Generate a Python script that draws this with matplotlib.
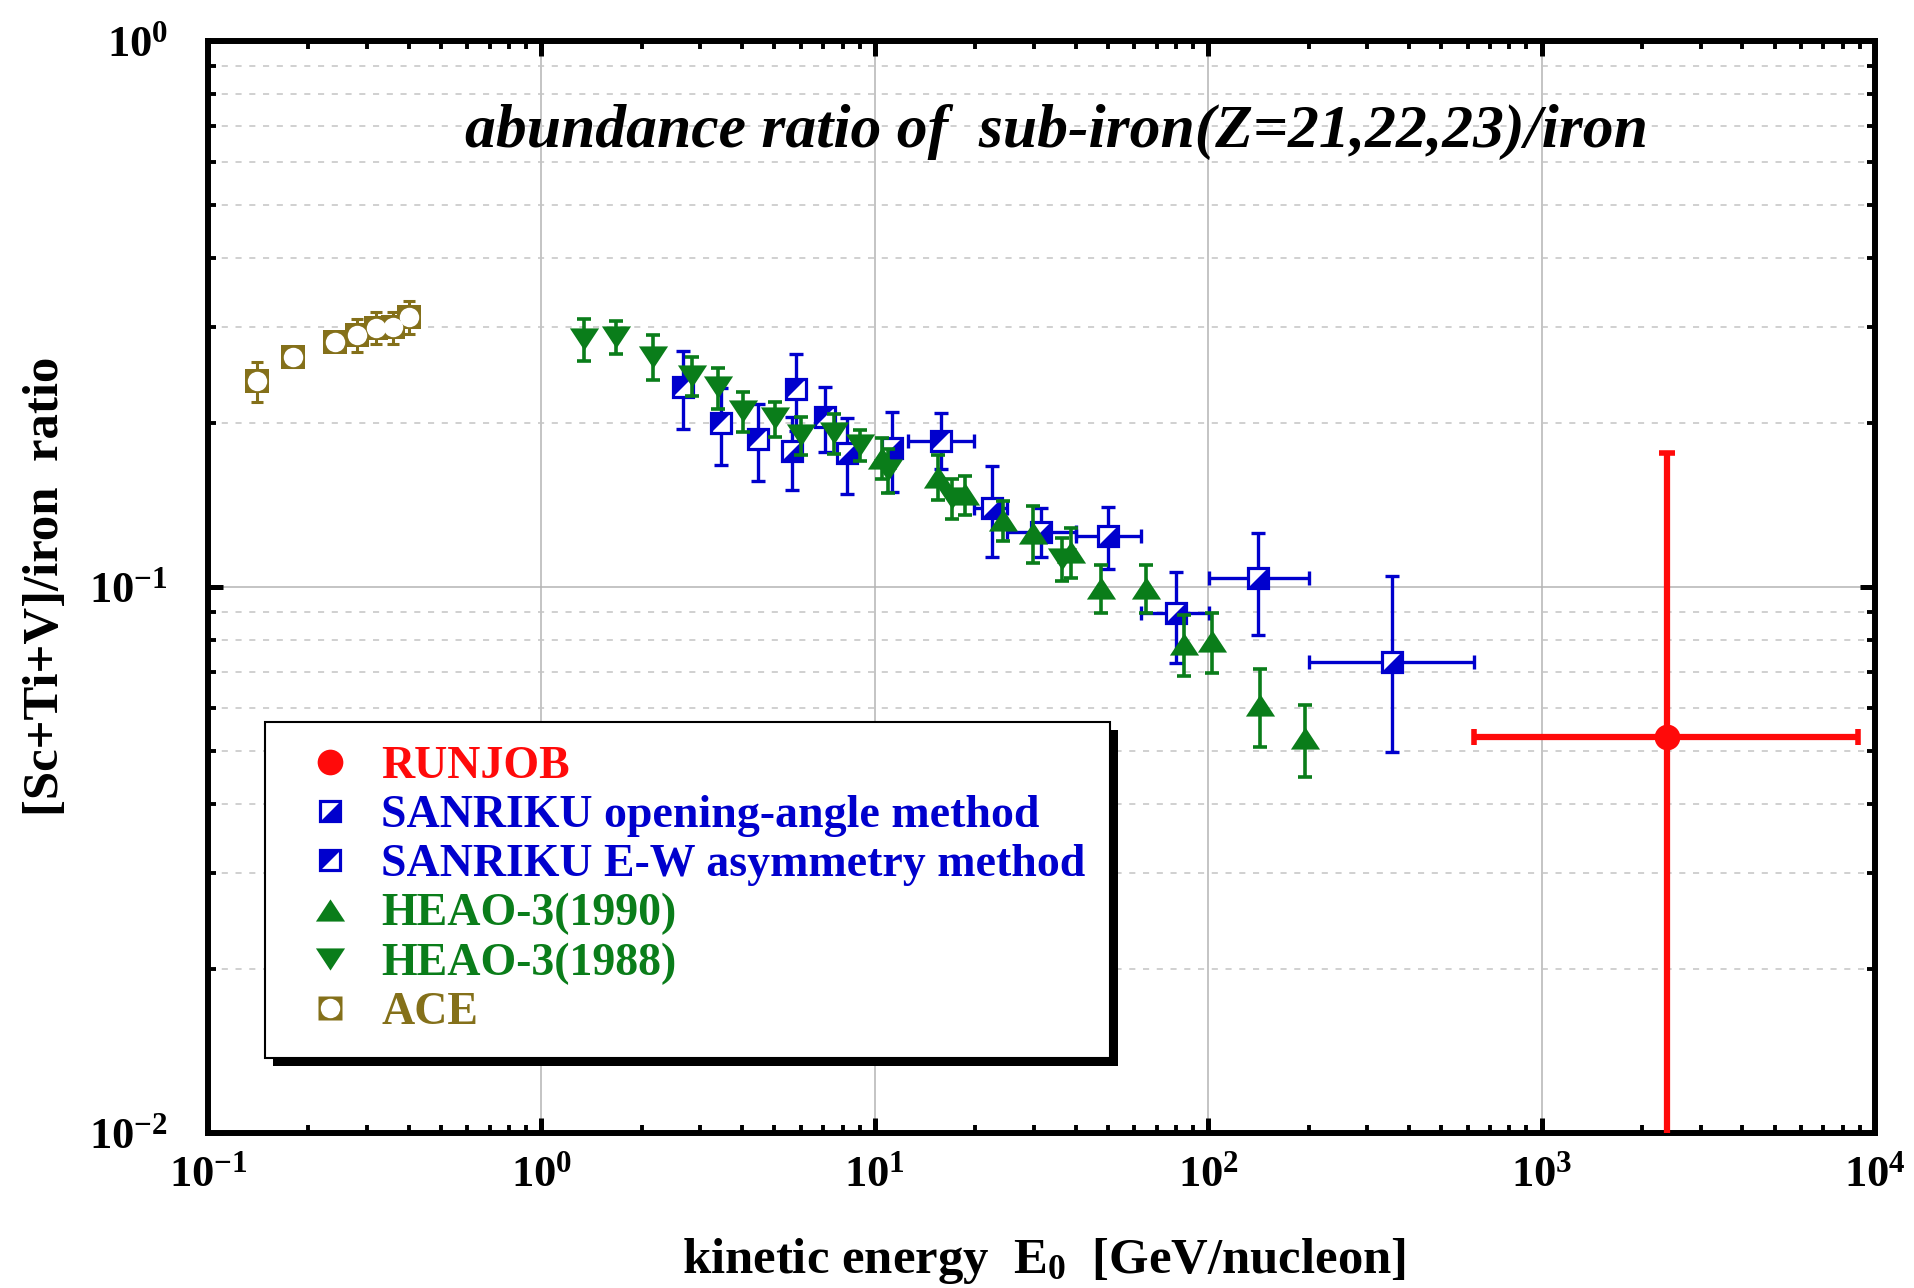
import numpy as np
import matplotlib
matplotlib.use("Agg")
import matplotlib.pyplot as plt
from matplotlib.lines import Line2D
from matplotlib.patches import Rectangle
from matplotlib.transforms import IdentityTransform
from matplotlib.legend_handler import HandlerTuple
from matplotlib.ticker import FixedLocator, LogLocator, FuncFormatter, NullFormatter

plt.rcParams["font.family"] = ["Liberation Serif", "DejaVu Serif"]
plt.rcParams["font.weight"] = "bold"
plt.rcParams["mathtext.fontset"] = "custom"
plt.rcParams["mathtext.rm"] = "Liberation Serif:bold"
plt.rcParams["mathtext.bf"] = "Liberation Serif:bold"
plt.rcParams["mathtext.it"] = "Liberation Serif:bold:italic"

# ---- data ----
# RUNJOB
runjob_x = [2370.0]
runjob_y = [0.0532]
runjob_xlo = [628.0]
runjob_xhi = [8900.0]
runjob_ylo = [0.001]
runjob_yhi = [0.176]

# SANRIKU opening-angle method
oa_x = [5.64, 8.25, 11.25, 22.4, 31.6, 50.1, 79.8, 140.6, 354.8]
oa_y = [0.1777, 0.1762, 0.1795, 0.1393, 0.1263, 0.124, 0.0897, 0.1037, 0.0728]
oa_yerr_lo = [0.027, 0.028, 0.030, 0.026, 0.013, 0.016, 0.017, 0.022, 0.023]
oa_yerr_hi = [0.027, 0.028, 0.030, 0.027, 0.013, 0.016, 0.017, 0.022, 0.032]
oa_xlo = [5.64, 8.25, 11.25, 19.9, 24.9, 40.2, 63.0, 100.4, 200.4]
oa_xhi = [5.64, 8.25, 11.25, 24.9, 40.2, 63.0, 100.4, 200.4, 625.6]

# SANRIKU E-W asymmetry method
ew_x = [2.667, 3.453, 4.478, 5.80, 7.10, 15.8]
ew_y = [0.2321, 0.1994, 0.1864, 0.2302, 0.2045, 0.1848]
ew_yerr_lo = [0.037, 0.032, 0.030, 0.037, 0.028, 0.020]
ew_yerr_hi = [0.038, 0.032, 0.030, 0.037, 0.028, 0.024]
ew_xlo = [2.667, 3.453, 4.478, 5.80, 7.10, 12.57]
ew_xhi = [2.667, 3.453, 4.478, 5.80, 7.10, 19.9]

# HEAO-3 (1990)
h90_x = [10.5, 15.5, 18.7, 24.2, 29.9, 38.8, 47.7, 65.1, 84.9, 102.4, 142.7, 194.5]
h90_y = [0.1725, 0.1592, 0.1478, 0.1327, 0.1257, 0.1161, 0.0997, 0.0997,
         0.0788, 0.0796, 0.0609, 0.0529]
h90_err = [0.015, 0.015, 0.012, 0.011, 0.015, 0.012, 0.010, 0.010, 0.010, 0.010, 0.010, 0.008]

# HEAO-3 (1988)
h88_x = [1.346, 1.675, 2.168, 2.826, 3.397, 4.036, 5.003, 6.0, 7.52, 9.0, 10.99, 17.0, 36.5]
h88_y = [0.2845, 0.287, 0.2641, 0.2434, 0.2321, 0.2101, 0.2037, 0.1898, 0.1912,
         0.182, 0.1637, 0.1455, 0.1128]
h88_err = [0.025, 0.020, 0.025, 0.020, 0.020, 0.018, 0.015, 0.015, 0.016, 0.012, 0.015, 0.012, 0.010]

# ACE
ace_x = [0.140, 0.1803, 0.2404, 0.2793, 0.3192, 0.3597, 0.4018]
ace_y = [0.2384, 0.2634, 0.2813, 0.2893, 0.2985, 0.2990, 0.3127]
ace_err = [0.020, 0.010, 0.010, 0.020, 0.020, 0.020, 0.022]

RED = "#ff0a0a"
BLUE = "#0000cd"
GREEN = "#0a7d1a"
OLIVE = "#84701a"

TRI_UP = [(0, 0.76), (-1, -0.76), (1, -0.76)]
TRI_DN = [(0, -0.76), (-1, 0.76), (1, 0.76)]
HALF_LR = [(-1, -1), (1, -1), (1, 1)]   # blue lower-right (opening-angle)
HALF_UL = [(-1, -1), (-1, 1), (1, 1)]   # blue upper-left (E-W)

fig = plt.figure(figsize=(19.14, 12.88), dpi=100)
ax = fig.add_axes([0.1087, 0.1203, 0.8709, 0.8478])
ax.set_xscale("log")
ax.set_yscale("log")
ax.set_xlim(0.1, 1e4)
ax.set_ylim(0.01, 1)

# ACE
ax.errorbar(ace_x, ace_y, yerr=ace_err, fmt="none", ecolor=OLIVE,
            elinewidth=2.2, capsize=4.5, capthick=2.2, zorder=3)
ax.plot(ace_x, ace_y, ls="none", marker="s", ms=17, mfc=OLIVE, mec=OLIVE, mew=0, zorder=4)
ax.plot(ace_x, ace_y, ls="none", marker="o", ms=14, mfc="white", mec="none", zorder=4.1)

# SANRIKU
def sanriku(x, y, ylo, yhi, xlo, xhi, half):
    x = np.array(x)
    xerr = [x - np.array(xlo), np.array(xhi) - x]
    ax.errorbar(x, y, yerr=[ylo, yhi], xerr=xerr, fmt="none", ecolor=BLUE,
                elinewidth=2.4, capsize=4.8, capthick=2.4, zorder=3)
    ax.plot(x, y, ls="none", marker="s", ms=14.5, mfc="white", mec=BLUE, mew=2.3, zorder=4)
    ax.plot(x, y, ls="none", marker=half, ms=14.5, mfc=BLUE, mec="none", mew=0, zorder=4.1)

sanriku(ew_x, ew_y, ew_yerr_lo, ew_yerr_hi, ew_xlo, ew_xhi, HALF_UL)
sanriku(oa_x, oa_y, oa_yerr_lo, oa_yerr_hi, oa_xlo, oa_xhi, HALF_LR)

# HEAO-3
ax.errorbar(h90_x, h90_y, yerr=h90_err, fmt="none", ecolor=GREEN,
            elinewidth=2.6, capsize=4.8, capthick=2.6, zorder=5)
ax.plot(h90_x, h90_y, ls="none", marker=TRI_UP, ms=21, mfc=GREEN, mec="none", zorder=5.1)
ax.errorbar(h88_x, h88_y, yerr=h88_err, fmt="none", ecolor=GREEN,
            elinewidth=2.6, capsize=4.8, capthick=2.6, zorder=5)
ax.plot(h88_x, h88_y, ls="none", marker=TRI_DN, ms=21, mfc=GREEN, mec="none", zorder=5.1)

# RUNJOB
rx = np.array(runjob_x)
ry = np.array(runjob_y)
ax.errorbar(rx, ry, xerr=[rx - np.array(runjob_xlo), np.array(runjob_xhi) - rx],
            yerr=[ry - np.array(runjob_ylo), np.array(runjob_yhi) - ry],
            fmt="none", ecolor=RED, elinewidth=4.5, capsize=5.8, capthick=4.0, zorder=6)
ax.plot(rx, ry, ls="none", marker="o", ms=18.5, mfc=RED, mec="none", zorder=6.1)

# grid / ticks
ax.set_axisbelow(True)
ax.grid(which="major", axis="both", color="#b4b4b4", lw=1.1, ls="-")
ax.grid(which="minor", axis="y", color="#c4c4c4", lw=1.1, ls=(0, (4, 5)))

ax.xaxis.set_major_locator(FixedLocator([1e-1, 1e0, 1e1, 1e2, 1e3, 1e4]))
ax.yaxis.set_major_locator(FixedLocator([1e-2, 1e-1, 1e0]))
ax.xaxis.set_minor_locator(LogLocator(base=10, subs=np.arange(2, 10), numticks=20))
ax.yaxis.set_minor_locator(LogLocator(base=10, subs=np.arange(2, 10), numticks=20))
fmt = FuncFormatter(lambda v, p: r"$\mathbf{10^{%d}}$" % int(round(np.log10(v))))
ax.xaxis.set_major_formatter(fmt)
ax.yaxis.set_major_formatter(fmt)
ax.xaxis.set_minor_formatter(NullFormatter())
ax.yaxis.set_minor_formatter(NullFormatter())

ax.tick_params(which="both", direction="in", top=True, right=True, labelsize=32)
ax.tick_params(which="major", length=11, width=3.6)
ax.tick_params(which="minor", length=6, width=2.8)
ax.tick_params(axis="x", which="major", pad=16)
ax.tick_params(axis="y", which="major", pad=29)
for s in ax.spines.values():
    s.set_linewidth(4.3)
    s.set_color("black")

# labels
fig.text(0.5455, 0.0117, r"kinetic energy  E$_{\mathbf{0}}$  [GeV/nucleon]",
         ha="center", va="baseline", fontsize=36.5, fontweight="bold")
fig.text(0.024, 0.545, "[Sc+Ti+V]/iron  ratio", rotation=90,
         ha="center", va="center", fontsize=36.5, fontweight="bold")
ax.text(0.509, 0.9167, "abundance ratio of  sub-iron(Z=21,22,23)/iron",
        transform=ax.transAxes, ha="center", va="center",
        fontsize=44.4, fontweight="bold", style="italic")

# legend
h_runjob = Line2D([], [], ls="none", marker="o", ms=18.5, mfc=RED, mec="none")
h_oa = (Line2D([], [], ls="none", marker="s", ms=14.5, mfc="white", mec=BLUE, mew=2.3),
        Line2D([], [], ls="none", marker=HALF_LR, ms=14.5, mfc=BLUE, mec="none"))
h_ew = (Line2D([], [], ls="none", marker="s", ms=14.5, mfc="white", mec=BLUE, mew=2.3),
        Line2D([], [], ls="none", marker=HALF_UL, ms=14.5, mfc=BLUE, mec="none"))
h_90 = Line2D([], [], ls="none", marker=TRI_UP, ms=21, mfc=GREEN, mec="none")
h_88 = Line2D([], [], ls="none", marker=TRI_DN, ms=21, mfc=GREEN, mec="none")
h_ace = (Line2D([], [], ls="none", marker="s", ms=17, mfc=OLIVE, mec="none"),
         Line2D([], [], ls="none", marker="o", ms=14, mfc="white", mec="none"))

labels = ["RUNJOB", "SANRIKU opening-angle method", "SANRIKU E-W asymmetry method",
          "HEAO-3(1990)", "HEAO-3(1988)", "ACE"]
colors = [RED, BLUE, BLUE, GREEN, GREEN, OLIVE]
leg = ax.legend([h_runjob, h_oa, h_ew, h_90, h_88, h_ace], labels,
                handler_map={tuple: HandlerTuple(ndivide=1, pad=0)},
                loc="upper left", bbox_to_anchor=(0.0342, 0.3764), borderaxespad=0,
                prop={"weight": "bold", "size": 33},
                numpoints=1, handlelength=1.76, handletextpad=0.25,
                borderpad=0.53, labelspacing=0.15, fancybox=False, framealpha=1)
for t, c in zip(leg.get_texts(), colors):
    t.set_color(c)
leg.get_frame().set_edgecolor("black")
leg.get_frame().set_linewidth(1.5)
leg.set_zorder(10)

fig.canvas.draw()
bb = leg.get_frame().get_window_extent()
shadow = Rectangle((bb.x0 + 8, bb.y0 - 8), bb.width, bb.height, transform=IdentityTransform(),
                   facecolor="black", edgecolor="none", zorder=9.5, clip_on=False)
ax.add_artist(shadow)

fig.savefig("out.png", dpi=100)
